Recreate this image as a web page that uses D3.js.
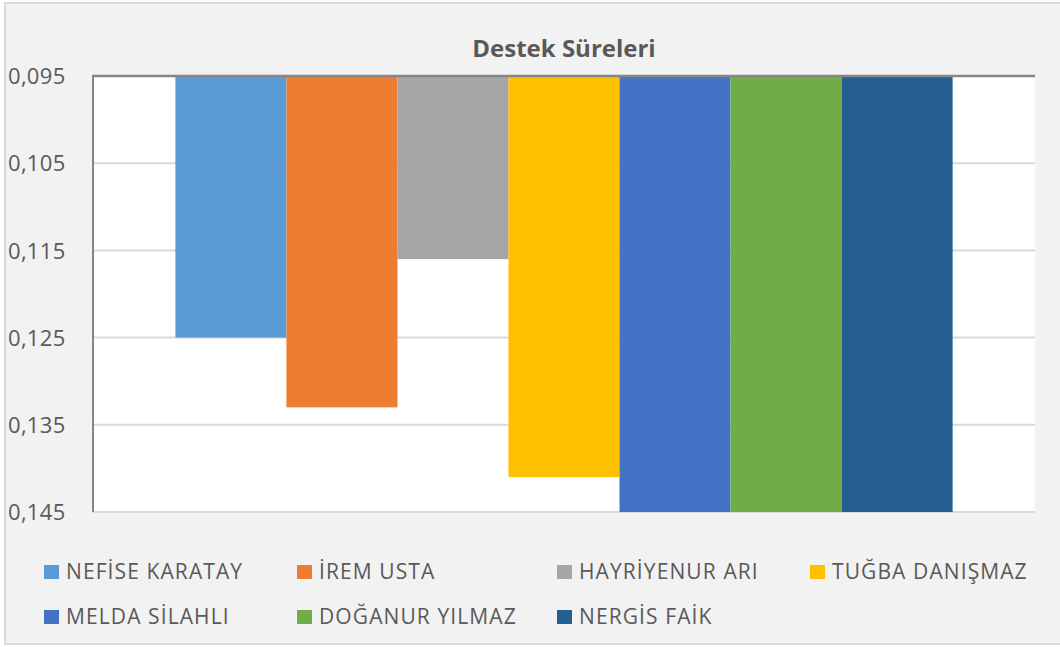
<!DOCTYPE html>
<html><head><meta charset="utf-8">
<script src="https://cdn.jsdelivr.net/npm/d3@7"></script>
<style>body{margin:0;background:#fff}svg{display:block}text{font-family:"Open Sans","Liberation Sans",sans-serif}</style>
</head><body><svg id="c" width="1060" height="647"></svg>
<script>
const title = "Destek Süreleri";
const names = ["NEFİSE KARATAY","İREM USTA","HAYRİYENUR ARI","TUĞBA DANIŞMAZ","MELDA SİLAHLI","DOĞANUR YILMAZ","NERGİS FAİK"];
const values = [0.125,0.133,0.116,0.141,0.145,0.145,0.145];
const colors = ["#5b9bd5","#ed7d31","#a5a5a5","#ffc000","#4472c4","#70ad47","#255e91"];
const ticks = [0.095,0.105,0.115,0.125,0.135,0.145];
const tickLabels = ["0,095","0,105","0,115","0,125","0,135","0,145"];

const svg = d3.select("#c");
svg.append("rect").attr("x",5).attr("y",3).attr("width",1060).attr("height",641)
  .attr("fill","#f2f2f2").attr("stroke","#d9d9d9").attr("stroke-width",2);

const L=93,R=1035,T=76,B=512;
const y = d3.scaleLinear().domain([0.095,0.145]).range([T,B]);
const x0 = d3.scaleBand().domain(["g"]).range([L,R]).paddingInner(0).paddingOuter(0.106);
const x1 = d3.scaleBand().domain(names).range([x0("g"),x0("g")+x0.bandwidth()]);

svg.append("rect").attr("x",L).attr("y",T).attr("width",R-L).attr("height",B-T).attr("fill","#fff");

const g = svg.append("g");
g.selectAll("line.grid").data(ticks).join("line")
  .attr("x1",L).attr("x2",R).attr("y1",d=>y(d)).attr("y2",d=>y(d))
  .attr("stroke","#d9d9d9").attr("stroke-width",2);

svg.append("defs").append("clipPath").attr("id","clip").append("rect")
  .attr("x",L).attr("y",T).attr("width",R-L).attr("height",B-T);
g.append("g").attr("clip-path","url(#clip)").selectAll("rect").data(names).join("rect")
  .attr("x",d=>x1(d)).attr("width",x1.bandwidth())
  .attr("y",y(0.095)).attr("height",(d,i)=>y(Math.min(values[i],0.145))-y(0.095))
  .attr("fill",(d,i)=>colors[i]);

const yAxis = d3.axisLeft(y).tickValues(ticks).tickFormat((d,i)=>tickLabels[i]).tickSize(0).tickPadding(0);
const ya = svg.append("g").attr("transform",`translate(${L},0)`).call(yAxis);
ya.select(".domain").remove();
ya.selectAll("text").attr("x",8-L).attr("text-anchor","start").attr("fill","#595959").attr("font-size",22).attr("letter-spacing",0.3).attr("dy","0.35em");
svg.append("line").attr("x1",L).attr("x2",L).attr("y1",T).attr("y2",B).attr("stroke","#868686").attr("stroke-width",2);
svg.append("line").attr("x1",L-1).attr("x2",R).attr("y1",T).attr("y2",T).attr("stroke","#868686").attr("stroke-width",2.5);

svg.append("text").attr("x",(L+R)/2).attr("y",57).attr("text-anchor","middle")
  .attr("font-size",24).attr("font-weight","bold").attr("fill","#595959").text(title);

const legX=[44,297,557,810], legY=[572,617];
const lg = svg.append("g").selectAll("g").data(names).join("g")
  .attr("transform",(d,i)=>`translate(${legX[i%4]},${legY[Math.floor(i/4)]})`);
lg.append("rect").attr("x",0).attr("y",-7).attr("width",15).attr("height",14).attr("fill",(d,i)=>colors[i]);
lg.append("text").attr("x",22).attr("y",0).attr("dy","0.35em").attr("font-size",21).attr("letter-spacing",1.1).attr("fill","#595959").text(d=>d);
</script></body></html>
